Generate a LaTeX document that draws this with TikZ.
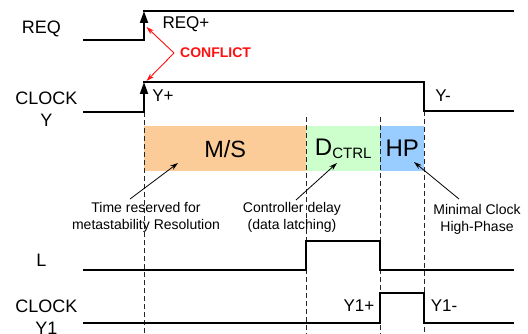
\documentclass[tikz,border=0pt]{standalone}
\usepackage{fontspec}
\setmainfont{Liberation Sans}
\usetikzlibrary{arrows.meta}
\definecolor{msor}{HTML}{FBCB98}
\definecolor{ctgr}{HTML}{CCFFCC}
\definecolor{hpbl}{HTML}{99CCFF}
\definecolor{cfred}{HTML}{FF1010}
\begin{document}
\begin{tikzpicture}[x=1pt,y=-1pt,
  wave/.style={line width=1.8pt,line join=miter,line cap=rect},
  edgearrow/.style={line width=1.8pt,-{Triangle[length=12pt,width=8pt]}},
  guide/.style={line width=0.6pt,dash pattern=on 5pt off 3pt,black!85},
  sig/.style={font=\fontsize{18}{22}\selectfont,align=center,inner sep=0pt},
  evt/.style={font=\fontsize{17}{20}\selectfont,inner sep=0pt},
  phase/.style={inner sep=0pt,anchor=north west,minimum height=45pt},
  note/.style={font=\fontsize{14}{17}\selectfont,align=center,inner sep=0pt},
  annot/.style={line width=0.8pt,-{Stealth[length=8pt,width=5pt]}},
  conf/.style={line width=0.9pt,cfred,-{Stealth[length=8pt,width=5pt]}}]
\useasboundingbox (0,0) rectangle (528,334);

% phase boxes
\node[phase,fill=msor,minimum width=162pt] (ms) at (144,126) {\fontsize{23.5}{26}\selectfont M/S};
\node[phase,fill=ctgr,minimum width=74pt] (dc) at (306,126) {\fontsize{24}{26}\selectfont D\raisebox{-2.5pt}{\fontsize{15}{16}\selectfont CTRL}};
\node[phase,fill=hpbl,minimum width=44pt] (hp) at (380,126) {\fontsize{24}{26}\selectfont HP};

% guide lines
\coordinate (g1a) at (144,112); \coordinate (g1b) at (144,334);
\coordinate (g2a) at (306,117); \coordinate (g2b) at (306,334);
\coordinate (g3a) at (380,117); \coordinate (g3b) at (380,334);
\coordinate (g4a) at (424,111); \coordinate (g4b) at (424,334);
\draw[guide] (g1a) -- (g1b);
\draw[guide] (g2a) -- (g2b);
\draw[guide] (g3a) -- (g3b);
\draw[guide] (g4a) -- (g4b);

% signal names
\node[sig] (lreq) at (41.5,29) {REQ};
\node[sig] (lclk) at (46.5,109) {CLOCK\\Y};
\node[sig] (ll) at (41.5,260) {L};
\node[sig] (lclk1) at (46.5,317) {CLOCK\\Y1};

% REQ
\coordinate (r0) at (84,40); \coordinate (r1) at (144,40);
\coordinate (r2) at (144,11); \coordinate (r3) at (513,11);
\draw[wave] (r0) -- (r1);
\draw[edgearrow] (r1) -- (r2);
\draw[wave] (r2) -- (r3);

% CLOCK Y
\coordinate (c0) at (84,112); \coordinate (c1) at (144,112);
\coordinate (c2) at (144,82); \coordinate (c3) at (424,82);
\coordinate (c4) at (424,111); \coordinate (c5) at (513,111);
\draw[wave] (c0) -- (c1);
\draw[edgearrow] (c1) -- (c2);
\draw[wave] (c2) -- (c3) -- (c4) -- (c5);

% L
\coordinate (l0) at (84,270); \coordinate (l1) at (306,270);
\coordinate (l2) at (306,241); \coordinate (l3) at (380,241);
\coordinate (l4) at (380,270); \coordinate (l5) at (513,270);
\draw[wave] (l0) -- (l1) -- (l2) -- (l3) -- (l4) -- (l5);

% CLOCK Y1
\coordinate (y0) at (84,323); \coordinate (y1) at (380,323);
\coordinate (y2) at (380,293); \coordinate (y3) at (424,293);
\coordinate (y4) at (424,323); \coordinate (y5) at (513,323);
\draw[wave] (y0) -- (y1) -- (y2) -- (y3) -- (y4) -- (y5);

% event labels
\node[evt] (reqp) at (186,24) {REQ+};
\node[evt] (yp) at (163,96) {Y+};
\node[evt] (ym) at (443,96) {Y-};
\node[evt] (y1p) at (359,306) {Y1+};
\node[evt] (y1m) at (444,306) {Y1-};

% conflict
\node[font=\fontsize{14}{16}\selectfont\bfseries,text=cfred,inner sep=0pt,anchor=west] (cf) at (180,53) {CONFLICT};
\coordinate (cfs) at (174,53);
\coordinate (cft1) at (146.5,27);
\coordinate (cft2) at (146.5,81);
\draw[conf] (cfs) -- (cft1);
\draw[conf] (cfs) -- (cft2);

% notes
\node[note] (n1) at (146,217.5) {Time reserved for\\metastability Resolution};
\node[note] (n2) at (292,217.5) {Controller delay\\(data latching)};
\node[note] (n3) at (477,219) {Minimal Clock\\High-Phase};
\coordinate (a1s) at (130,199); \coordinate (a1e) at (178,163);
\coordinate (a2s) at (296,200); \coordinate (a2e) at (337,163);
\coordinate (a3s) at (459,199); \coordinate (a3e) at (414,162);
\draw[annot] (a1s) -- (a1e);
\draw[annot] (a2s) -- (a2e);
\draw[annot] (a3s) -- (a3e);
\end{tikzpicture}
\end{document}
